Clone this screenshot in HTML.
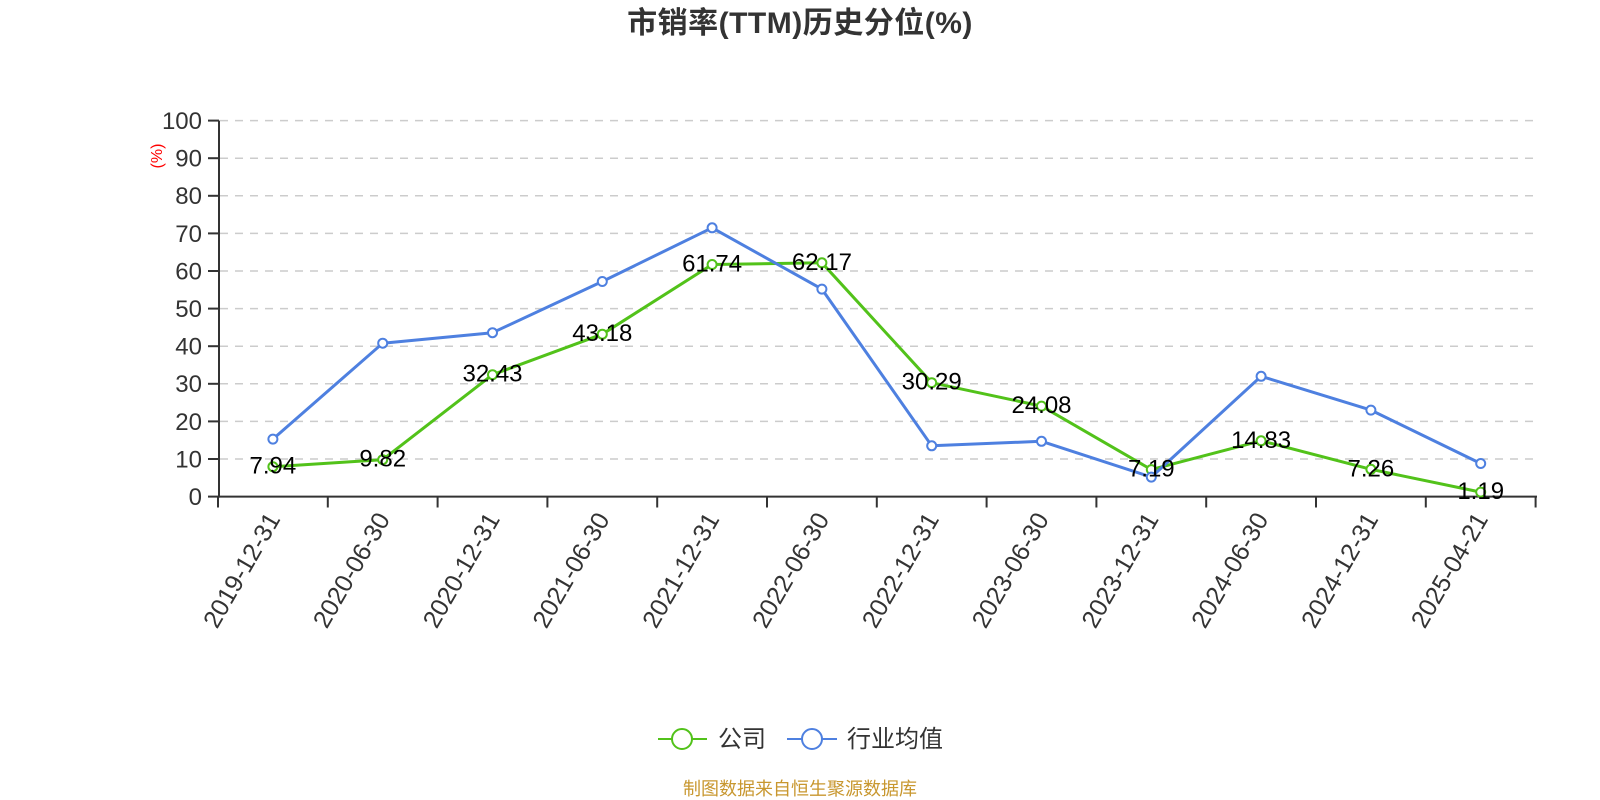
<!DOCTYPE html>
<html>
<head>
<meta charset="utf-8">
<style>
  html, body { margin:0; padding:0; background:#fff; }
  svg { display:block; }
  text { font-family: "Liberation Sans", "Noto Sans CJK SC", sans-serif; }
</style>
</head>
<body>
<svg width="1600" height="800" viewBox="0 0 1600 800" xmlns="http://www.w3.org/2000/svg">
  <rect width="1600" height="800" fill="#fff"/>
  <!-- Title -->
  <text x="800" y="33" text-anchor="middle" font-size="30" font-weight="bold" fill="#333" letter-spacing="0.5">市销率(TTM)历史分位(%)</text>

  <!-- grid lines -->
  <g stroke="#cccccc" stroke-width="1.5" stroke-dasharray="8,7" fill="none">
    <line x1="220" y1="459.0" x2="1536" y2="459.0"/>
    <line x1="220" y1="421.4" x2="1536" y2="421.4"/>
    <line x1="220" y1="383.8" x2="1536" y2="383.8"/>
    <line x1="220" y1="346.2" x2="1536" y2="346.2"/>
    <line x1="220" y1="308.6" x2="1536" y2="308.6"/>
    <line x1="220" y1="271.0" x2="1536" y2="271.0"/>
    <line x1="220" y1="233.4" x2="1536" y2="233.4"/>
    <line x1="220" y1="195.8" x2="1536" y2="195.8"/>
    <line x1="220" y1="158.2" x2="1536" y2="158.2"/>
    <line x1="220" y1="120.6" x2="1536" y2="120.6"/>
  </g>

  <!-- Y axis -->
  <g stroke="#333" stroke-width="2" fill="none">
    <line x1="219" y1="120.6" x2="219" y2="497.6"/>
    <line x1="208" y1="496.6" x2="219" y2="496.6"/>
    <line x1="208" y1="459.0" x2="219" y2="459.0"/>
    <line x1="208" y1="421.4" x2="219" y2="421.4"/>
    <line x1="208" y1="383.8" x2="219" y2="383.8"/>
    <line x1="208" y1="346.2" x2="219" y2="346.2"/>
    <line x1="208" y1="308.6" x2="219" y2="308.6"/>
    <line x1="208" y1="271.0" x2="219" y2="271.0"/>
    <line x1="208" y1="233.4" x2="219" y2="233.4"/>
    <line x1="208" y1="195.8" x2="219" y2="195.8"/>
    <line x1="208" y1="158.2" x2="219" y2="158.2"/>
    <line x1="208" y1="120.6" x2="219" y2="120.6"/>
  </g>
  <g font-size="24" fill="#333" text-anchor="end">
    <text x="202" y="505.0">0</text>
    <text x="202" y="467.4">10</text>
    <text x="202" y="429.8">20</text>
    <text x="202" y="392.2">30</text>
    <text x="202" y="354.6">40</text>
    <text x="202" y="317.0">50</text>
    <text x="202" y="279.4">60</text>
    <text x="202" y="241.8">70</text>
    <text x="202" y="204.2">80</text>
    <text x="202" y="166.6">90</text>
    <text x="202" y="129.0">100</text>
  </g>
  <text transform="translate(162,156) rotate(-90)" text-anchor="middle" font-size="16" fill="#ff0000">(%)</text>

  <!-- X axis -->
  <g stroke="#333" stroke-width="2" fill="none">
    <line x1="218" y1="496.6" x2="1537" y2="496.6"/>
    <line x1="218.0" y1="496.6" x2="218.0" y2="507.5"/>
    <line x1="327.8" y1="496.6" x2="327.8" y2="507.5"/>
    <line x1="437.6" y1="496.6" x2="437.6" y2="507.5"/>
    <line x1="547.4" y1="496.6" x2="547.4" y2="507.5"/>
    <line x1="657.2" y1="496.6" x2="657.2" y2="507.5"/>
    <line x1="767.0" y1="496.6" x2="767.0" y2="507.5"/>
    <line x1="876.8" y1="496.6" x2="876.8" y2="507.5"/>
    <line x1="986.6" y1="496.6" x2="986.6" y2="507.5"/>
    <line x1="1096.4" y1="496.6" x2="1096.4" y2="507.5"/>
    <line x1="1206.2" y1="496.6" x2="1206.2" y2="507.5"/>
    <line x1="1316.0" y1="496.6" x2="1316.0" y2="507.5"/>
    <line x1="1425.8" y1="496.6" x2="1425.8" y2="507.5"/>
    <line x1="1535.6" y1="496.6" x2="1535.6" y2="507.5"/>
  </g>
  <g font-size="25" fill="#333" text-anchor="end" dominant-baseline="central">
    <text transform="translate(274,515) rotate(-60)">2019-12-31</text>
    <text transform="translate(383.8,515) rotate(-60)">2020-06-30</text>
    <text transform="translate(493.6,515) rotate(-60)">2020-12-31</text>
    <text transform="translate(603.4,515) rotate(-60)">2021-06-30</text>
    <text transform="translate(713.2,515) rotate(-60)">2021-12-31</text>
    <text transform="translate(823,515) rotate(-60)">2022-06-30</text>
    <text transform="translate(932.8,515) rotate(-60)">2022-12-31</text>
    <text transform="translate(1042.6,515) rotate(-60)">2023-06-30</text>
    <text transform="translate(1152.4,515) rotate(-60)">2023-12-31</text>
    <text transform="translate(1262.2,515) rotate(-60)">2024-06-30</text>
    <text transform="translate(1372,515) rotate(-60)">2024-12-31</text>
    <text transform="translate(1481.8,515) rotate(-60)">2025-04-21</text>
  </g>

  <!-- Green series (公司) -->
  <polyline fill="none" stroke="#52c21a" stroke-width="3" stroke-linejoin="round"
    points="272.9,466.7 382.7,459.7 492.5,374.7 602.3,334.2 712.1,264.5 821.9,262.8 931.7,382.7 1041.5,406.1 1151.3,469.6 1261.1,440.8 1370.9,469.3 1480.7,492.1"/>
  <g fill="#fff" stroke="#52c21a" stroke-width="2">
    <circle cx="272.9" cy="466.7" r="4.5"/>
    <circle cx="382.7" cy="459.7" r="4.5"/>
    <circle cx="492.5" cy="374.7" r="4.5"/>
    <circle cx="602.3" cy="334.2" r="4.5"/>
    <circle cx="712.1" cy="264.5" r="4.5"/>
    <circle cx="821.9" cy="262.8" r="4.5"/>
    <circle cx="931.7" cy="382.7" r="4.5"/>
    <circle cx="1041.5" cy="406.1" r="4.5"/>
    <circle cx="1151.3" cy="469.6" r="4.5"/>
    <circle cx="1261.1" cy="440.8" r="4.5"/>
    <circle cx="1370.9" cy="469.3" r="4.5"/>
    <circle cx="1480.7" cy="492.1" r="4.5"/>
  </g>

  <!-- Blue series (行业均值) -->
  <polyline fill="none" stroke="#4e80e0" stroke-width="3" stroke-linejoin="round"
    points="272.9,439.1 382.7,343.2 492.5,332.7 602.3,281.5 712.1,227.8 821.9,289.1 931.7,445.8 1041.5,441.3 1151.3,477.1 1261.1,376.3 1370.9,410.1 1480.7,463.5"/>
  <g fill="#fff" stroke="#4e80e0" stroke-width="2">
    <circle cx="272.9" cy="439.1" r="4.5"/>
    <circle cx="382.7" cy="343.2" r="4.5"/>
    <circle cx="492.5" cy="332.7" r="4.5"/>
    <circle cx="602.3" cy="281.5" r="4.5"/>
    <circle cx="712.1" cy="227.8" r="4.5"/>
    <circle cx="821.9" cy="289.1" r="4.5"/>
    <circle cx="931.7" cy="445.8" r="4.5"/>
    <circle cx="1041.5" cy="441.3" r="4.5"/>
    <circle cx="1151.3" cy="477.1" r="4.5"/>
    <circle cx="1261.1" cy="376.3" r="4.5"/>
    <circle cx="1370.9" cy="410.1" r="4.5"/>
    <circle cx="1480.7" cy="463.5" r="4.5"/>
  </g>

  <!-- Green labels -->
  <g font-size="24" fill="#000" text-anchor="middle">
    <text x="272.9" y="473.7">7.94</text>
    <text x="382.7" y="466.7">9.82</text>
    <text x="492.5" y="381.7">32.43</text>
    <text x="602.3" y="341.2">43.18</text>
    <text x="712.1" y="271.5">61.74</text>
    <text x="821.9" y="269.8">62.17</text>
    <text x="931.7" y="389.7">30.29</text>
    <text x="1041.5" y="413.1">24.08</text>
    <text x="1151.3" y="476.6">7.19</text>
    <text x="1261.1" y="447.8">14.83</text>
    <text x="1370.9" y="476.3">7.26</text>
    <text x="1480.7" y="499.1">1.19</text>
  </g>

  <!-- Legend -->
  <line x1="658" y1="739" x2="707" y2="739" stroke="#52c21a" stroke-width="2"/>
  <circle cx="682" cy="739" r="10" fill="#fff" stroke="#52c21a" stroke-width="2"/>
  <text x="718" y="747" font-size="24" fill="#333">公司</text>
  <line x1="787" y1="739" x2="837" y2="739" stroke="#4e80e0" stroke-width="2"/>
  <circle cx="812" cy="739" r="10" fill="#fff" stroke="#4e80e0" stroke-width="2"/>
  <text x="847" y="747" font-size="24" fill="#333">行业均值</text>

  <!-- Source -->
  <text x="800" y="795" text-anchor="middle" font-size="18" fill="#c8972f">制图数据来自恒生聚源数据库</text>
</svg>
</body>
</html>
